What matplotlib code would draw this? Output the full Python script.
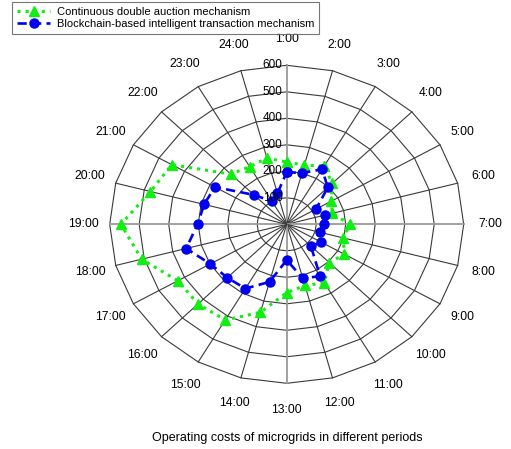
import numpy as np
import matplotlib
matplotlib.use('Agg')
import matplotlib.pyplot as plt

hours = [f"{h}:00" for h in range(1, 25)]
cda = [235, 231, 254, 218, 175, 160, 214, 198, 226, 204, 255, 239,
       258, 344, 417, 425, 426, 509, 562, 478, 450, 268, 251, 259]
bitm = [197, 200, 240, 197, 115, 133, 125, 117, 136, 116, 226, 211,
        135, 225, 280, 285, 299, 353, 302, 290, 281, 157, 100, 121]
r_ticks = [100, 200, 300, 400, 500, 600]
r_max = 600
label_cda = "Continuous double auction mechanism"
label_bit = "Blockchain-based intelligent transaction mechanism"
title = "Operating costs of microgrids in different periods"

plt.rcParams['font.family'] = ['Liberation Sans', 'DejaVu Sans']
W, H = 511, 449
fig = plt.figure(figsize=(W / 100, H / 100), dpi=100)
ax = fig.add_axes([109.7 / W, 1 - 383.3 / H, 354 / W, 318 / H], projection='polar')
ax.set_aspect('auto')
ax.set_theta_zero_location('N')
ax.set_theta_direction(-1)
n = len(hours)
theta = np.arange(n) * 2 * np.pi / n
theta_c = np.append(theta, theta[0])
ax.set_ylim(0, r_max)
ax.grid(False)
ax.spines['polar'].set_visible(False)
ax.set_yticks([])

for r in r_ticks:
    ax.plot(theta_c, [r] * (n + 1), color='#3a3a3a', lw=0.8, zorder=1, clip_on=False)
for i, t in enumerate(theta):
    main = i % 6 == 0
    ax.plot([t, t], [0, r_max], color='#9a9a9a' if main else '#3a3a3a',
            lw=1.3 if main else 0.8, zorder=1, clip_on=False)

ax.plot(theta_c, cda + [cda[0]], color='#11ee11', ls=':', lw=2.2,
        marker='^', ms=7.5, label=label_cda, zorder=3, clip_on=False)
ax.plot(theta_c, bitm + [bitm[0]], color='#0000ee', ls=(0, (3.5, 2)), lw=1.9,
        marker='o', ms=6.5, label=label_bit, zorder=4, clip_on=False)

ax.set_xticks(theta)
ax.set_xticklabels(hours, fontsize=8.7)
ax.tick_params(axis='x', pad=12, length=0)

for r in r_ticks:
    ax.annotate(str(r), xy=(0, r), xytext=(-3, 0), textcoords='offset points',
                ha='right', va='center', fontsize=8.5, zorder=6)

fig.text(287.5 / W, 1 - 438 / H, title, ha='center', va='center', fontsize=9)

h, l = ax.get_legend_handles_labels()
leg = fig.legend(h, l, loc='upper left', bbox_to_anchor=(12 / W, 1 - 2 / H),
                 borderaxespad=0, fontsize=8, frameon=True, fancybox=False,
                 edgecolor='#555555', borderpad=0.45, handlelength=3.0,
                 handletextpad=0.6, labelspacing=0.2)
leg.get_frame().set_linewidth(0.8)

fig.savefig('out.png', dpi=100)
